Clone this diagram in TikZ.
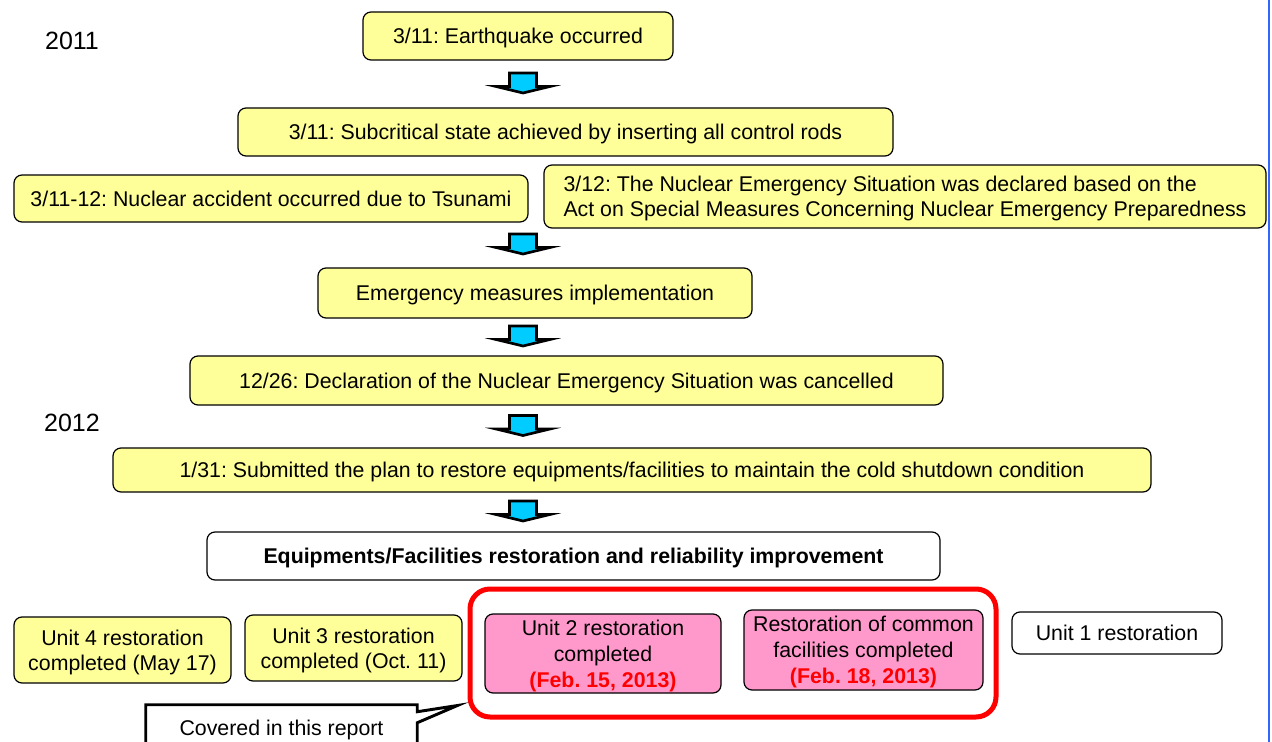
\documentclass[tikz,border=0pt]{standalone}
\usepackage{fontspec}
\setmainfont{Liberation Sans}
\usepackage{tikz}
\usetikzlibrary{calc}
\frenchspacing
\definecolor{boxyellow}{RGB}{255,255,153}
\definecolor{boxpink}{RGB}{255,153,204}
\definecolor{arrowcyan}{RGB}{0,204,255}
\definecolor{edgeblue}{RGB}{51,102,255}
\tikzset{
  txt/.style={font=\fontsize{16}{18.5}\selectfont, inner sep=0pt, text depth=0pt, align=center},
  event/.style={txt, draw, line width=0.9pt, rounded corners=6pt, fill=boxyellow},
  whitebox/.style={txt, draw, line width=0.9pt, rounded corners=6pt, fill=white},
  pinkbox/.style={event, fill=boxpink, font=\fontsize{16}{19.5}\selectfont},
  year/.style={txt, font=\fontsize{18.75}{22}\selectfont},
  downarrow/.pic={
    \filldraw[fill=arrowcyan, draw=black, line width=2pt, line join=miter]
      (-13.5,-11) -- (13.5,-11) -- (13.5,2.5) -- (27,2.5) -- (0,9) -- (-27,2.5) -- (-13.5,2.5) -- cycle;
  }
}
\begin{document}
\begin{tikzpicture}[x=0.75pt, y=-0.75pt]
  \clip (0,0) rectangle (1272,742);
  % years
  \node[year] (y2011) at (72,41) {2011};
  \node[year] (y2012) at (72,423) {2012};
  % chain of events
  \node[event, minimum width=232.5pt, minimum height=36pt] (quake) at (518,36) {3/11: Earthquake occurred};
  \node[event, minimum width=491.25pt, minimum height=36pt] (subcrit) at (565.5,132) {3/11: Subcritical state achieved by inserting all control rods};
  \node[event, minimum width=385.5pt, minimum height=35.25pt] (tsunami) at (271,198.5) {3/11-12: Nuclear accident occurred due to Tsunami};
  \node[event, align=left, minimum width=541.5pt, minimum height=47.25pt] (declared) at (905,196.5) {3/12: The Nuclear Emergency Situation was declared based on the\\Act on Special Measures Concerning Nuclear Emergency Preparedness};
  \node[event, minimum width=325.5pt, minimum height=37.5pt] (measures) at (535,293) {Emergency measures implementation};
  \node[event, minimum width=564.75pt, minimum height=36.75pt] (cancel) at (566.5,380.5) {12/26: Declaration of the Nuclear Emergency Situation was cancelled};
  \node[event, minimum width=778.5pt, minimum height=33pt] (plan) at (632,470) {1/31: Submitted the plan to restore equipments/facilities to maintain the cold shutdown condition};
  \node[whitebox, font=\fontsize{16}{18.5}\selectfont\bfseries, minimum width=549.75pt, minimum height=36pt] (restore) at (573.5,556) {Equipments/Facilities restoration and reliability improvement};
  % block arrows
  \coordinate (axis) at (523,0);
  \foreach \a/\b in {quake/subcrit, tsunami/measures, measures/cancel, cancel/plan, plan/restore} {
    \coordinate (mid) at ($(\a.south)!.5!(\b.north)$);
    \pic at (axis |- mid) {downarrow};
  }
  % units
  \node[event, minimum width=162.75pt, minimum height=49.5pt] (unit4) at (122.5,650) {Unit 4 restoration\\completed (May 17)};
  \node[event, minimum width=162.75pt, minimum height=49.5pt] (unit3) at (353.5,648) {Unit 3 restoration\\completed (Oct. 11)};
  \node[draw=red, line width=3.75pt, rounded corners=15pt, minimum width=394.5pt, minimum height=96pt] (report) at (733,653) {};
  \node[pinkbox, minimum width=177pt, minimum height=59.25pt] (unit2) at (603,653.5) {Unit 2 restoration\\completed\\\textcolor{red}{\bfseries (Feb. 15, 2013)}};
  \node[pinkbox, minimum width=179.25pt, minimum height=60pt] (common) at (863.5,650) {Restoration of common\\facilities completed\\\textcolor{red}{\bfseries (Feb. 18, 2013)}};
  \node[whitebox, minimum width=157.5pt, minimum height=31.5pt] (unit1) at (1117,633) {Unit 1 restoration};
  % callout
  \node[txt, minimum width=203.25pt, minimum height=34.5pt] (covered) at (281.5,728) {Covered in this report};
  \coordinate (tip) at ($(report.south west)+(-10,-14)$);
  \draw[line width=2.2pt, line join=miter] (covered.south east) -- ($(covered.north east)+(0,18)$) -- (tip)
    -- ($(covered.north east)+(0,7)$) -- (covered.north east) -- (covered.north west) -- (covered.south west);
  % page edge
  \draw[edgeblue, line width=1.5pt] (1269,0) -- (1269,742);
\end{tikzpicture}
\end{document}
